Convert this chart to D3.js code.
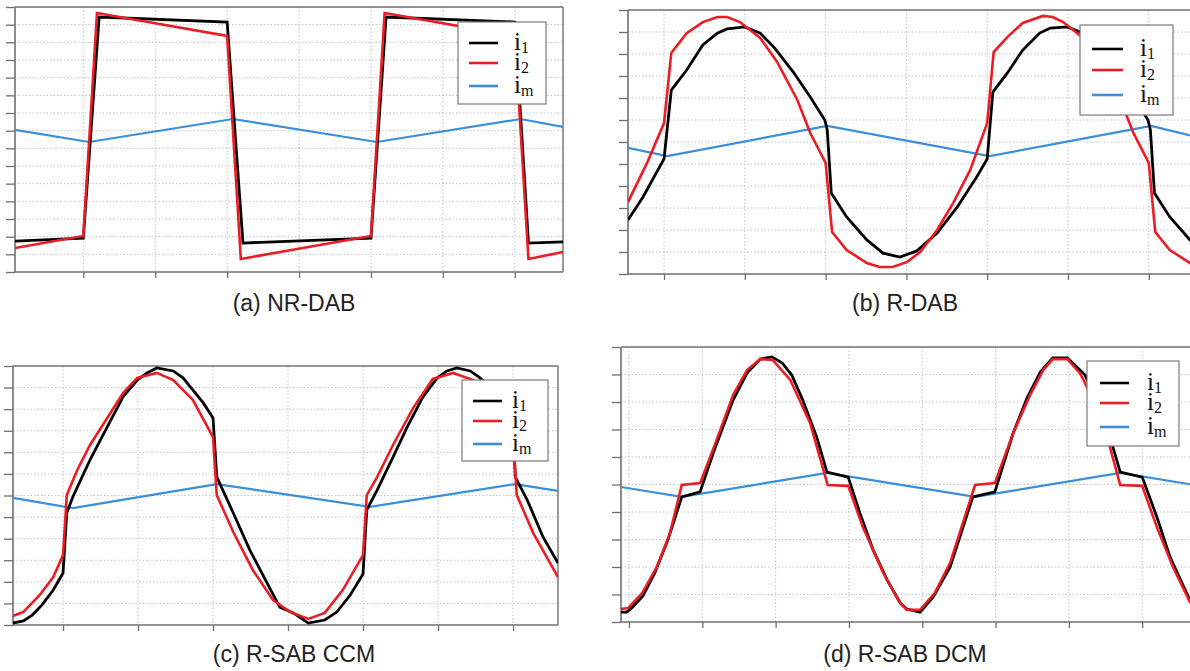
<!DOCTYPE html>
<html>
<head>
<meta charset="utf-8">
<script src="https://cdn.jsdelivr.net/npm/d3@7"></script>
<style>
  html, body { margin: 0; padding: 0; background: #fff; }
  svg { display: block; }
</style>
</head>
<body>
<svg id="chart" width="1190" height="671"></svg>
<script>
// ---------------- DATA (time in grid units, current in grid units) ----------------
const seriesNames = ["i1", "i2", "im"];
const captions = ["(a) NR-DAB", "(b) R-DAB", "(c) R-SAB CCM", "(d) R-SAB DCM"];
const xTickValues = [1, 2, 3, 4, 5, 6, 7, 8];

// (a) NR-DAB
const nrdab_i1 = [[0.05,1.75],[1.00,1.92],[1.22,14.43],[3.00,14.15],[3.22,1.64],[5.00,1.92],[5.21,14.43],[7.00,14.15],[7.19,1.64],[7.67,1.70]];
const nrdab_i2 = [[0.05,1.36],[1.00,2.04],[1.19,14.66],[3.00,13.36],[3.19,0.74],[5.00,2.04],[5.19,14.66],[7.00,13.36],[7.19,0.74],[7.67,1.13]];
const nrdab_im = [[0.05,8.04],[1.08,7.36],[3.08,8.66],[5.08,7.36],[7.08,8.66],[7.67,8.21]];

// (b) R-DAB
const rdab_i1 = [[0.554,2.45],[0.74,3.50],[1.00,5.23],[1.09,8.36],[1.28,9.27],[1.48,10.41],[1.66,10.95],[1.78,11.14],[2.00,11.23],[2.19,10.95],[2.37,10.27],[2.60,9.18],[2.81,8.05],[2.99,7.00],[3.02,6.55],[3.07,3.68],[3.26,2.59],[3.51,1.55],[3.71,0.95],[3.92,0.77],[4.13,1.05],[4.38,1.86],[4.63,3.05],[4.87,4.41],[5.00,5.23],[5.07,8.27],[5.25,9.14],[5.44,10.18],[5.65,10.95],[5.78,11.18],[5.99,11.23],[6.19,10.95],[6.37,10.27],[6.60,9.18],[6.81,8.05],[6.99,7.00],[7.02,6.55],[7.07,3.68],[7.26,2.59],[7.51,1.55],[7.57,1.35]];
const rdab_i2 = [[0.554,3.27],[0.79,5.05],[1.00,6.86],[1.09,10.05],[1.28,10.95],[1.48,11.45],[1.66,11.68],[1.78,11.68],[1.94,11.45],[2.19,10.73],[2.40,9.64],[2.65,7.91],[2.81,6.41],[3.00,5.05],[3.08,1.91],[3.26,1.09],[3.51,0.50],[3.67,0.32],[3.83,0.32],[4.01,0.55],[4.17,1.00],[4.38,2.00],[4.58,3.23],[4.79,4.73],[5.00,6.86],[5.08,10.09],[5.25,10.77],[5.44,11.41],[5.69,11.73],[5.81,11.68],[5.94,11.45],[6.19,10.73],[6.40,9.64],[6.65,7.91],[6.81,6.41],[7.00,5.05],[7.08,1.91],[7.26,1.09],[7.51,0.50],[7.57,0.42]];
const rdab_im = [[0.554,5.73],[1.04,5.36],[3.02,6.73],[5.03,5.36],[7.03,6.73],[7.57,6.25]];

// (c) R-SAB CCM
const ccm_i1 = [[0.33,0.09],[0.47,0.19],[0.59,0.46],[0.72,0.93],[0.87,1.62],[1.00,2.41],[1.05,5.19],[1.13,5.93],[1.36,7.65],[1.59,9.18],[1.80,10.57],[1.99,11.35],[2.12,11.68],[2.25,11.91],[2.47,11.77],[2.60,11.45],[2.73,10.89],[2.87,10.29],[3.00,9.59],[3.05,6.86],[3.27,5.19],[3.49,3.48],[3.72,1.95],[3.89,0.83],[4.07,0.56],[4.27,0.09],[4.49,0.23],[4.65,0.60],[4.83,1.39],[5.00,2.36],[5.05,5.33],[5.19,6.26],[5.40,7.78],[5.59,9.18],[5.80,10.57],[5.99,11.45],[6.12,11.77],[6.25,11.91],[6.43,11.77],[6.56,11.45],[6.73,10.89],[6.87,10.29],[7.00,9.59],[7.03,6.86],[7.19,5.79],[7.40,4.08],[7.60,2.87]];
const ccm_i2 = [[0.33,0.42],[0.47,0.60],[0.69,1.39],[0.87,2.22],[1.00,3.24],[1.05,6.02],[1.19,7.18],[1.36,8.34],[1.59,9.59],[1.80,10.75],[1.99,11.45],[2.25,11.68],[2.47,11.35],[2.73,10.43],[3.00,8.71],[3.05,6.02],[3.27,4.31],[3.53,2.55],[3.80,1.16],[4.03,0.60],[4.27,0.28],[4.49,0.56],[4.73,1.62],[5.00,3.24],[5.05,6.02],[5.19,6.86],[5.40,8.34],[5.67,10.06],[5.93,11.40],[6.20,11.68],[6.47,11.35],[6.73,10.43],[7.00,8.71],[7.05,6.02],[7.27,4.26],[7.60,2.22]];
const ccm_im = [[0.33,5.89],[1.13,5.42],[3.05,6.53],[5.09,5.47],[7.03,6.53],[7.60,6.21]];

// (d) R-SAB DCM
const dcm_i1 = [[0.89,0.36],[0.97,0.36],[1.05,0.55],[1.19,0.95],[1.35,1.78],[1.53,2.98],[1.72,4.55],[1.97,4.73],[2.15,6.15],[2.42,8.07],[2.61,9.05],[2.79,9.56],[2.95,9.64],[3.09,9.42],[3.22,8.98],[3.37,8.07],[3.56,6.73],[3.70,5.45],[3.99,5.27],[4.15,3.96],[4.33,2.62],[4.52,1.53],[4.70,0.69],[4.79,0.47],[4.97,0.36],[5.15,0.91],[5.38,2.00],[5.69,4.55],[5.99,4.73],[6.24,6.87],[6.43,8.15],[6.61,9.09],[6.78,9.60],[6.98,9.60],[7.15,9.16],[7.22,8.98],[7.37,8.07],[7.56,6.73],[7.70,5.45],[8.00,5.27],[8.20,3.82],[8.38,2.36],[8.65,0.80],[8.72,0.60]];
const dcm_i2 = [[0.89,0.47],[0.99,0.51],[1.18,1.05],[1.38,2.00],[1.56,3.24],[1.72,4.98],[1.97,5.05],[2.17,6.44],[2.42,8.25],[2.61,9.16],[2.79,9.56],[2.96,9.53],[3.20,8.80],[3.47,7.24],[3.71,4.98],[3.99,4.95],[4.19,3.45],[4.47,1.78],[4.70,0.69],[4.79,0.44],[4.97,0.44],[5.17,1.05],[5.38,2.15],[5.72,4.98],[5.99,5.05],[6.24,6.87],[6.47,8.25],[6.65,9.16],[6.78,9.56],[6.98,9.56],[7.15,9.05],[7.20,8.80],[7.47,7.24],[7.70,4.98],[8.00,4.95],[8.20,3.45],[8.42,2.00],[8.65,0.73],[8.72,0.55]];
const dcm_im = [[0.89,4.91],[1.72,4.55],[3.70,5.42],[5.72,4.55],[7.70,5.42],[8.72,4.98]];

// ---------------- LAYOUT ----------------
const colors = { i1: "#000000", i2: "#ec1c24", im: "#3a8fd8" };
const widths = { i1: 2.8, i2: 2.6, im: 2.2 };

const panels = [
  { data: {i1: nrdab_i1, i2: nrdab_i2, im: nrdab_im}, caption: captions[0],
    box: {l: 15, t: 7, r: 563, b: 272}, xDom: [0.05, 7.67], yDom: [0, 15], yStep: 1, rightBorder: true,
    legend: {x: 458, y: 22, w: 88, h: 82, lx0: 469, lx1: 498, rows: [21, 41, 64], tx: 514},
    cap: {x: 294, y: 311} },
  { data: {i1: rdab_i1, i2: rdab_i2, im: rdab_im}, caption: captions[1],
    box: {l: 628, t: 10, r: 1195, b: 274}, xDom: [0.554, 7.572], yDom: [0, 12], yStep: 1, rightBorder: false,
    legend: {x: 1080, y: 25, w: 93, h: 90, lx0: 1092, lx1: 1123, rows: [24, 45, 70], tx: 1140},
    cap: {x: 905, y: 311} },
  { data: {i1: ccm_i1, i2: ccm_i2, im: ccm_im}, caption: captions[2],
    box: {l: 13, t: 366, r: 558, b: 625}, xDom: [0.333, 7.6], yDom: [0, 12], yStep: 1, rightBorder: true,
    legend: {x: 462, y: 380, w: 86, h: 81, lx0: 473, lx1: 502, rows: [21, 41, 64], tx: 512},
    cap: {x: 294, y: 662} },
  { data: {i1: dcm_i1, i2: dcm_i2, im: dcm_im}, caption: captions[3],
    box: {l: 621, t: 347, r: 1195, b: 622}, xDom: [0.891, 8.72], yDom: [0, 10], yStep: 1, rightBorder: false,
    legend: {x: 1087, y: 361, w: 92, h: 85, lx0: 1100, lx1: 1129, rows: [22, 42, 66], tx: 1147},
    cap: {x: 905, y: 662} }
];

const svg = d3.select("#chart");
const axisColor = "#6f6f6f";
const gridColor = "#c4c4c4";

panels.forEach((p, pi) => {
  const x = d3.scaleLinear().domain(p.xDom).range([p.box.l, p.box.r]);
  const y = d3.scaleLinear().domain(p.yDom).range([p.box.b, p.box.t]);
  const g = svg.append("g");

  const xt = xTickValues.filter(v => v > p.xDom[0] && v < p.xDom[1]);
  const yt = d3.range(p.yDom[0], p.yDom[1] + 0.001, p.yStep);

  // gridlines
  g.append("g").selectAll("line").data(xt).join("line")
    .attr("x1", d => x(d)).attr("x2", d => x(d))
    .attr("y1", p.box.t).attr("y2", p.box.b)
    .attr("stroke", gridColor).attr("stroke-width", 1).attr("stroke-dasharray", "1.5,2");
  g.append("g").selectAll("line").data(yt.filter(v => v > p.yDom[0] && v < p.yDom[1])).join("line")
    .attr("x1", p.box.l).attr("x2", p.box.r)
    .attr("y1", d => y(d)).attr("y2", d => y(d))
    .attr("stroke", gridColor).attr("stroke-width", 1).attr("stroke-dasharray", "1.5,2");

  // axes via d3
  const xAxis = d3.axisBottom(x).tickValues(xt).tickSize(6).tickFormat("");
  const yAxis = d3.axisLeft(y).tickValues(yt).tickSize(9).tickFormat("");
  const gx = g.append("g").attr("transform", `translate(0,${p.box.b})`).call(xAxis);
  const gy = g.append("g").attr("transform", `translate(${p.box.l},0)`).call(yAxis);
  [gx, gy].forEach(a => {
    a.select(".domain").remove();
    a.selectAll(".tick line").attr("stroke", axisColor).attr("stroke-width", 1.3);
  });

  // frame
  g.append("line").attr("x1", p.box.l).attr("x2", p.box.r).attr("y1", p.box.t).attr("y2", p.box.t)
    .attr("stroke", axisColor).attr("stroke-width", 1.4);
  g.append("line").attr("x1", p.box.l).attr("x2", p.box.r).attr("y1", p.box.b).attr("y2", p.box.b)
    .attr("stroke", axisColor).attr("stroke-width", 1.6);
  g.append("line").attr("x1", p.box.l).attr("x2", p.box.l).attr("y1", p.box.t).attr("y2", p.box.b)
    .attr("stroke", axisColor).attr("stroke-width", 1.6);
  if (p.rightBorder) {
    g.append("line").attr("x1", p.box.r).attr("x2", p.box.r).attr("y1", p.box.t).attr("y2", p.box.b)
      .attr("stroke", axisColor).attr("stroke-width", 1.4);
  }

  // clip
  const cid = "clip" + pi;
  svg.append("clipPath").attr("id", cid).append("rect")
    .attr("x", p.box.l).attr("y", p.box.t - 3).attr("width", p.box.r - p.box.l).attr("height", p.box.b - p.box.t + 6);

  const line = d3.line().x(d => x(d[0])).y(d => y(d[1]));
  const lg = g.append("g").attr("clip-path", `url(#${cid})`);
  ["im", "i1", "i2"].forEach(k => {
    lg.append("path").datum(p.data[k]).attr("d", line)
      .attr("fill", "none").attr("stroke", colors[k]).attr("stroke-width", widths[k])
      .attr("stroke-linejoin", "miter").attr("stroke-linecap", "butt");
  });

  // legend
  const L = p.legend;
  const leg = g.append("g");
  leg.append("rect").attr("x", L.x).attr("y", L.y).attr("width", L.w).attr("height", L.h)
    .attr("fill", "#fff").attr("stroke", "#7a7a7a").attr("stroke-width", 1.2);
  seriesNames.forEach((k, i) => {
    const ry = L.y + L.rows[i];
    leg.append("line").attr("x1", L.lx0).attr("x2", L.lx1).attr("y1", ry).attr("y2", ry)
      .attr("stroke", colors[k]).attr("stroke-width", 2.6);
    const t = leg.append("text").attr("x", L.tx).attr("y", ry + 7)
      .attr("font-family", "'Liberation Serif', 'DejaVu Serif', serif").attr("font-size", 25).attr("fill", "#111");
    t.append("tspan").text("i");
    t.append("tspan").attr("dy", 3).attr("font-size", 16).text(k.slice(1));
  });

  // caption
  svg.append("text").attr("x", p.cap.x).attr("y", p.cap.y).attr("text-anchor", "middle")
    .attr("font-family", "'Liberation Sans', Arial, sans-serif").attr("font-size", 23).attr("fill", "#222")
    .text(p.caption);
});
</script>
</body>
</html>
